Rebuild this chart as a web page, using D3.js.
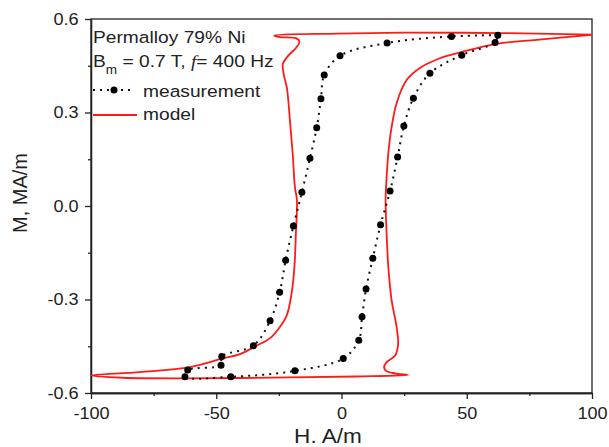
<!DOCTYPE html>
<html lang="en">
<head>
<meta charset="UTF-8">
<title>Permalloy 79% Ni hysteresis loop</title>
<script src="https://d3js.org/d3.v7.min.js"></script>
<style>
  body { margin: 0; background: #fff; }
  svg { display: block; font-family: Arial, "Liberation Sans", sans-serif; }
</style>
</head>
<body>
<svg id="chart"></svg>
<script>
// measured points, H in A/m and M in MA/m, going round the loop from the top tip
var measH = [62.4, 43.9, 18.2, -0.6, -6.9, -8.2, -9.9, -12.6, -15.8, -19.2, -22.3, -24.7, -28.5, -35.2, -47.8, -48.1, -61.4, -62.5,
             -44.2, -18.6, 0.7, 6.9, 8.2, 9.8, 12.5, 15.6, 19.4, 22.4, 24.9, 28.7, 35.3, 48.0, 61.3, 62.4];
var measM = [0.548, 0.544, 0.523, 0.482, 0.420, 0.344, 0.251, 0.153, 0.044, -0.064, -0.174, -0.277, -0.368, -0.448, -0.483, -0.511, -0.526, -0.548,
             -0.548, -0.529, -0.489, -0.431, -0.355, -0.266, -0.168, -0.060, 0.048, 0.157, 0.257, 0.346, 0.426, 0.484, 0.525, 0.548];

// model curve, same units
var modelH = [100, 77.9, 62.0, 43.3, 39.3, 31.3, 26.0, 22.0, 20.0, 18.7, 17.8, 17.6, 18.0, 18.7, 20.0, 22.0, 22.6, 21.4, 18.0, 17.0, 17.8, 21.4, 26.7,
              6.2, -20.6, -60.5, -87.2, -100,
              -80.4, -60.5, -47.3, -40.5, -34.1, -28.5, -24.6, -21.8, -19.9, -18.8, -18.2, -17.8, -18.6, -19.5, -20.6, -21.8, -23.0, -23.4, -21.4, -18.2, -16.8, -17.8, -24.6, -26.9,
              -1.9, 24.6, 63.3, 100];
var modelM = [0.549, 0.533, 0.520, 0.484, 0.474, 0.443, 0.404, 0.330, 0.253, 0.170, 0.061, 0.019, -0.087, -0.196, -0.302, -0.388, -0.443, -0.480, -0.501, -0.517, -0.529, -0.537, -0.542,
              -0.547, -0.550, -0.553, -0.551, -0.544,
              -0.533, -0.517, -0.489, -0.475, -0.449, -0.424, -0.388, -0.350, -0.279, -0.196, -0.087, 0.019, 0.061, 0.170, 0.276, 0.379, 0.420, 0.456, 0.481, 0.507, 0.526, 0.537, 0.542, 0.547,
              0.553, 0.556, 0.555, 0.550];

var xTicks = [-100, -50, 0, 50, 100];
var xMinor = [-75, -25, 25, 75];
var yTicks = [-0.6, -0.3, 0, 0.3, 0.6];
var yMinor = [-0.45, -0.15, 0.15, 0.45];

var width = 609, height = 447;
var plotLeft = 91, plotRight = 592, plotTop = 19, plotBottom = 393;
var sx = 1.13; // the original text is a bit wide

var svg = d3.select("#chart").attr("width", width).attr("height", height);

var x = d3.scaleLinear().domain([-100, 100]).range([plotLeft, plotRight]);
var y = d3.scaleLinear().domain([-0.6, 0.6]).range([plotBottom, plotTop]);

// frame
svg.append("rect")
  .attr("x", plotLeft).attr("y", plotTop)
  .attr("width", plotRight - plotLeft).attr("height", plotBottom - plotTop)
  .attr("fill", "none").attr("stroke", "#222").attr("stroke-width", 1.3);

// axes
var xAxis = svg.append("g")
  .attr("transform", "translate(0," + plotBottom + ")")
  .call(d3.axisBottom(x).tickValues(xTicks).tickSize(6).tickSizeOuter(0).tickFormat(d => String(d)));
svg.append("g")
  .attr("transform", "translate(0," + plotBottom + ")")
  .call(d3.axisBottom(x).tickValues(xMinor).tickSize(3).tickSizeOuter(0).tickFormat(""));

var yAxis = svg.append("g")
  .attr("transform", "translate(" + plotLeft + ",0)")
  .call(d3.axisLeft(y).tickValues(yTicks).tickSize(6).tickSizeOuter(0).tickFormat(d => d.toFixed(1)));
svg.append("g")
  .attr("transform", "translate(" + plotLeft + ",0)")
  .call(d3.axisLeft(y).tickValues(yMinor).tickSize(3).tickSizeOuter(0).tickFormat(""));

svg.selectAll(".domain").attr("stroke", "#222").attr("stroke-width", 1.3);
svg.selectAll(".tick line").attr("stroke", "#222").attr("stroke-width", 1.3);

xAxis.selectAll("text")
  .attr("y", 15).attr("dy", "0.71em")
  .attr("transform", "scale(" + sx + ",1)")
  .style("font-size", "16px").attr("fill", "#222");
yAxis.selectAll("text")
  .attr("x", -11)
  .attr("transform", "scale(" + sx + ",1)")
  .style("font-size", "16px").attr("fill", "#222");

// axis titles
svg.append("text")
  .attr("transform", "translate(328,443) scale(" + sx + ",1)")
  .attr("text-anchor", "middle")
  .style("font-size", "20px").attr("fill", "#222")
  .text("H. A/m");
svg.append("text")
  .attr("transform", "translate(27,193) rotate(-90)")
  .attr("text-anchor", "middle")
  .style("font-size", "20px").attr("fill", "#222")
  .text("M, MA/m");

// model curve
var modelPts = modelH.map((h, i) => [h, modelM[i]]);
var line = d3.line().x(d => x(d[0])).y(d => y(d[1])).curve(d3.curveCatmullRom.alpha(0.5));

svg.append("path")
  .datum(modelPts)
  .attr("d", line)
  .attr("fill", "none")
  .attr("stroke", "#ff1a1a")
  .attr("stroke-width", 1.8);

// measurement: dotted line plus markers
var measPts = measH.map((h, i) => [h, measM[i]]);
svg.append("path")
  .datum(measPts)
  .attr("d", line)
  .attr("fill", "none")
  .attr("stroke", "#111")
  .attr("stroke-width", 2)
  .attr("stroke-dasharray", "2,5");

svg.selectAll("circle.meas")
  .data(measPts.slice(0, -1))
  .enter()
  .append("circle")
  .attr("class", "meas")
  .attr("cx", d => x(d[0]))
  .attr("cy", d => y(d[1]))
  .attr("r", 3.5)
  .attr("fill", "#000");

// legend block
var legend = svg.append("g").attr("fill", "#222").style("font-size", "17px");

legend.append("text")
  .attr("transform", "translate(93,43) scale(" + sx + ",1)")
  .text("Permalloy 79% Ni");

var l2 = legend.append("text")
  .attr("transform", "translate(93,67) scale(" + sx + ",1)");
l2.append("tspan").text("B");
l2.append("tspan").attr("dy", 7).style("font-size", "12px").text("m");
l2.append("tspan").attr("dy", -7).text(" = 0.7 T, ");
l2.append("tspan").style("font-style", "italic").style("font-family", "'Liberation Serif', serif").text("f");
l2.append("tspan").text("= 400 Hz");

legend.append("line")
  .attr("x1", 93).attr("x2", 134).attr("y1", 90).attr("y2", 90)
  .attr("stroke", "#111").attr("stroke-width", 2).attr("stroke-dasharray", "2,5");
legend.append("circle")
  .attr("cx", 114).attr("cy", 90).attr("r", 3.5).attr("fill", "#000");
legend.append("text")
  .attr("transform", "translate(143,97) scale(" + sx + ",1)")
  .text("measurement");

legend.append("line")
  .attr("x1", 93).attr("x2", 137).attr("y1", 115).attr("y2", 115)
  .attr("stroke", "#ff1a1a").attr("stroke-width", 1.8);
legend.append("text")
  .attr("transform", "translate(143,120) scale(" + sx + ",1)")
  .text("model");
</script>
</body>
</html>
